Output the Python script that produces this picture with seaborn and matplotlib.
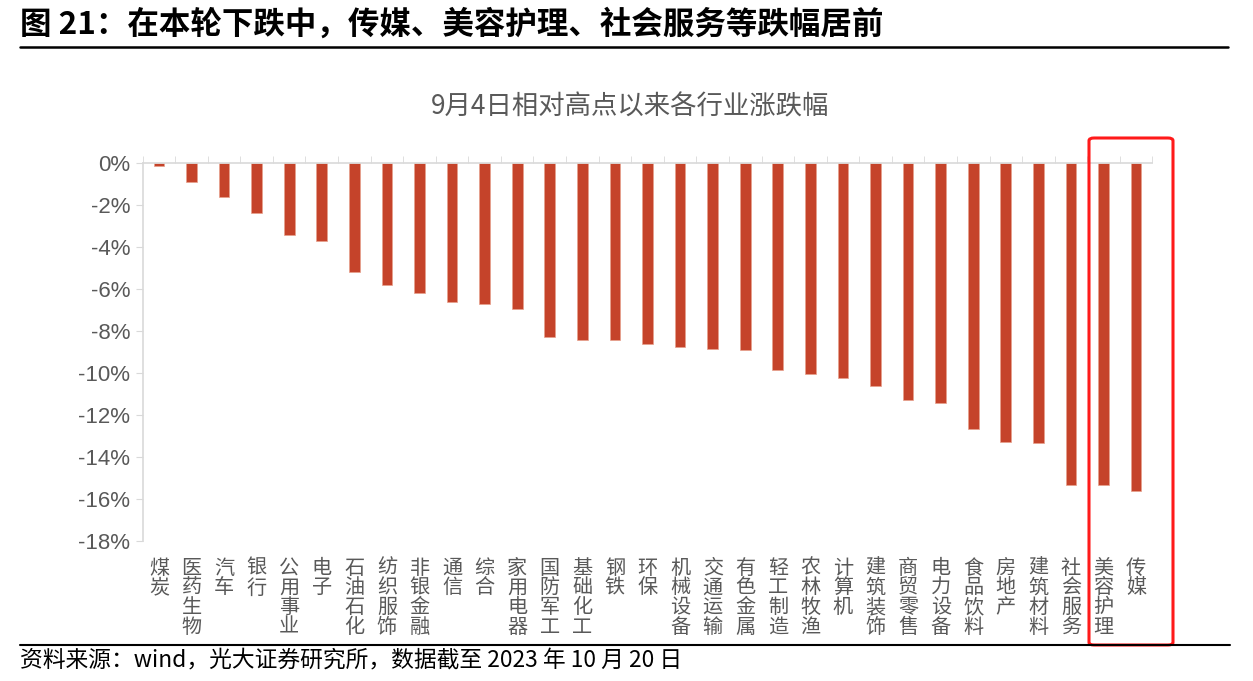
import pandas
import matplotlib.pyplot as plt
import seaborn as sns
from matplotlib.lines import Line2D
from matplotlib.patches import FancyBboxPatch

# 9月4日以来各行业涨跌幅 (%)
industries = ["煤炭", "医药生物", "汽车", "银行", "公用事业", "电子", "石油石化", "纺织服饰",
              "非银金融", "通信", "综合", "家用电器", "国防军工", "基础化工", "钢铁", "环保",
              "机械设备", "交通运输", "有色金属", "轻工制造", "农林牧渔", "计算机", "建筑装饰",
              "商贸零售", "电力设备", "食品饮料", "房地产", "建筑材料", "社会服务", "美容护理", "传媒"]
changes = [-0.15, -0.9, -1.6, -2.4, -3.45, -3.7, -5.2, -5.8,
           -6.2, -6.6, -6.7, -6.95, -8.3, -8.45, -8.45, -8.6,
           -8.75, -8.85, -8.9, -9.85, -10.05, -10.25, -10.6,
           -11.3, -11.45, -12.65, -13.3, -13.35, -15.35, -15.35, -15.6]
yticks = [0, -2, -4, -6, -8, -10, -12, -14, -16, -18]

df = pandas.DataFrame({"industry": industries, "change": changes})

sns.set_style("white")
plt.rcParams["font.family"] = ["Noto Sans CJK SC", "DejaVu Sans"]

W, H = 1253, 681
fig = plt.figure(figsize=(W / 100, H / 100), dpi=100)
gray = "#595959"

n = len(industries)
left_px, right_px = 142.6, 1152.4
ax = fig.add_axes([left_px / W, 1 - 541 / H, (right_px - left_px) / W, (541 - 163) / H])

sns.barplot(df, x="industry", y="change", color="#C5432A", width=0.33,
            edgecolor="#E8A08C", linewidth=0.5, saturation=1, ax=ax)

ax.set_xlim(-0.5, n - 0.5)
ax.set_ylim(-18, 0)
ax.set_yticks(yticks)
ax.set_yticklabels([f"{v}%" for v in yticks], family=["Liberation Sans", "DejaVu Sans"],
                   fontsize=16, color=gray)
ax.set_xticks(range(n))
ax.set_xticklabels(["\n".join(s) for s in industries], fontsize=14.5, color=gray,
                   linespacing=0.92, va="top")
ax.set_xticks([i - 0.5 for i in range(n + 1)], minor=True)
ax.tick_params(axis="x", which="major", length=0, pad=12)
ax.tick_params(axis="x", which="minor", top=True, bottom=False, length=5, color="#D9D9D9", direction="out")
ax.tick_params(axis="y", length=5, color="#D9D9D9", direction="out", left=True, pad=4)
ax.set_xlabel("")
ax.set_ylabel("")

for side in ["right", "bottom"]:
    ax.spines[side].set_visible(False)
for side in ["left", "top"]:
    ax.spines[side].set_color("#D9D9D9")
    ax.spines[side].set_linewidth(1.2)

fig.text(630 / W, 1 - 107 / H, "9月4日相对高点以来各行业涨跌幅", ha="center", va="center",
         fontsize=19, color=gray)

fig.text(20 / W, 1 - 25 / H, "图 21：在本轮下跌中，传媒、美容护理、社会服务等跌幅居前",
         ha="left", va="center", fontsize=22.7, fontweight="bold", color="black")
fig.add_artist(Line2D([20 / W, 1228 / W], [1 - 47 / H, 1 - 47 / H], color="black", lw=1.8))
fig.add_artist(Line2D([20 / W, 1230 / W], [1 - 645 / H, 1 - 645 / H], color="black", lw=1.5))
fig.text(20 / W, 1 - 661 / H, "资料来源：wind，光大证券研究所，数据截至 2023 年 10 月 20 日",
         ha="left", va="center", fontsize=16.4, color="black")

fig.add_artist(FancyBboxPatch((1089 / W, 1 - 645 / H), (1173 - 1089) / W, (645 - 138) / H,
                              boxstyle="round,pad=0,rounding_size=0.004", transform=fig.transFigure,
                              fill=False, edgecolor="#FF1A1A", linewidth=2.2))

fig.savefig("out.png", dpi=100)
